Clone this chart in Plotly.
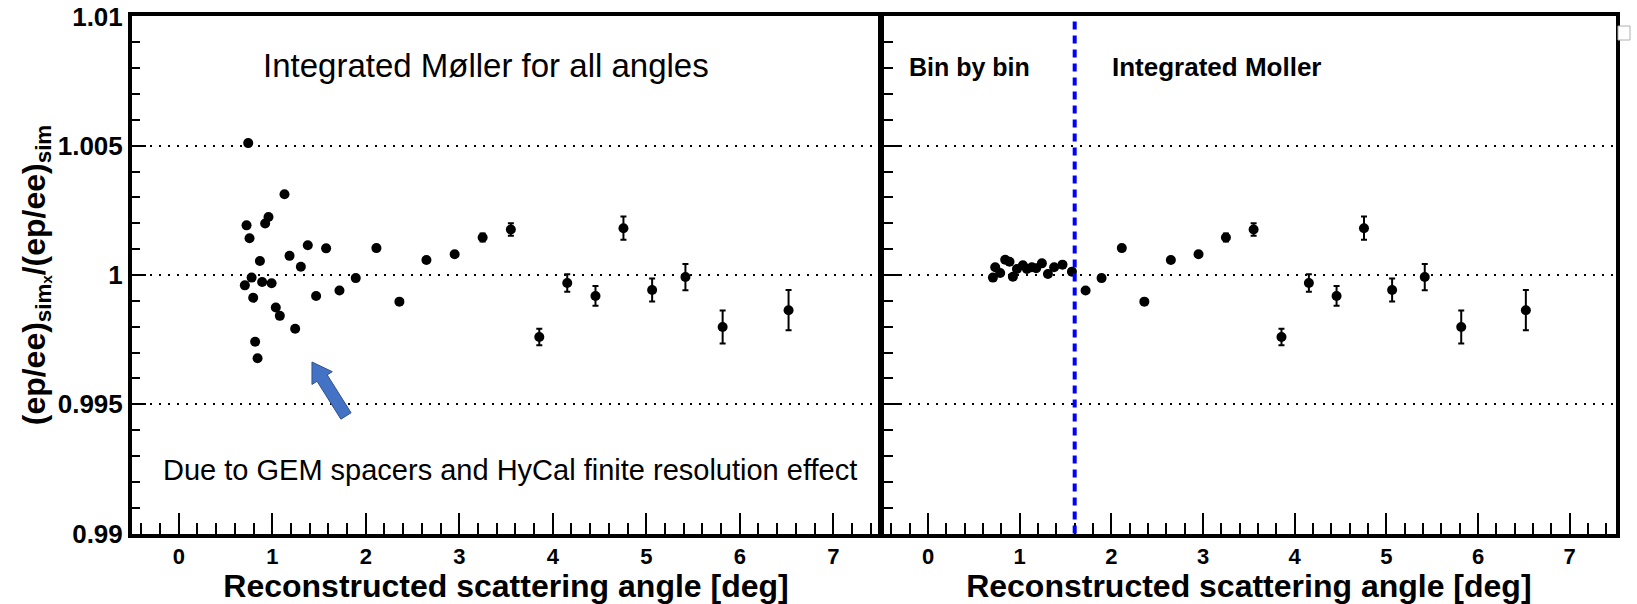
import plotly.graph_objects as go

# ---------------- data ----------------
# Integrated Moller normalisation (left panel; also right panel above the cut)
angle_int = [0.707, 0.725, 0.743, 0.757, 0.779, 0.796, 0.817, 0.843, 0.868, 0.892,
             0.924, 0.960, 0.993, 1.038, 1.081, 1.131, 1.185, 1.245, 1.306, 1.380,
             1.469, 1.576, 1.719, 1.893, 2.114, 2.360, 2.649, 2.951, 3.250, 3.552,
             3.856, 4.155, 4.457, 4.756, 5.063, 5.419, 5.817, 6.522]
ratio_int = [0.99960, 1.00192, 1.00510, 1.00142, 0.99990, 0.99912, 0.99742, 0.99678, 1.00054, 0.99973,
             1.00199, 1.00224, 0.99968, 0.99874, 0.99842, 1.00312, 1.00074, 0.99792, 1.00032, 1.00115,
             0.99919, 1.00103, 0.99940, 0.99988, 1.00104, 0.99897, 1.00058, 1.00080, 1.00145, 1.00176,
             0.99760, 0.99969, 0.99919, 1.00181, 0.99942, 0.99992, 0.99799, 0.99864]
err_int = [0.00003, 0.00003, 0.00003, 0.00003, 0.00003, 0.00003, 0.00003, 0.00003, 0.00003, 0.00003,
           0.00003, 0.00003, 0.00003, 0.00003, 0.00003, 0.00003, 0.00003, 0.00003, 0.00003, 0.00003,
           0.00003, 0.00003, 0.00004, 0.00004, 0.00005, 0.00006, 0.00008, 0.00010, 0.00015, 0.00024,
           0.00032, 0.00034, 0.00038, 0.00045, 0.00044, 0.00051, 0.00064, 0.00078]

# Bin-by-bin normalisation (right panel, below the cut)
angle_bin = [0.708, 0.733, 0.787, 0.842, 0.889, 0.926, 0.970, 1.035, 1.079, 1.133,
             1.180, 1.242, 1.308, 1.376, 1.467, 1.570]
ratio_bin = [0.99990, 1.00030, 1.00008, 1.00059, 1.00051, 0.99993, 1.00023, 1.00038, 1.00023, 1.00030,
             1.00026, 1.00045, 1.00004, 1.00030, 1.00040, 1.00013]
err_bin = [0.00003] * len(angle_bin)

angle_cut = 1.6

x_ticks = [0, 1, 2, 3, 4, 5, 6, 7]
x_ticktext = ["0", "1", "2", "3", "4", "5", "6", "7"]
y_ticks = [0.99, 0.995, 1.0, 1.005, 1.01]
y_ticktext = ["0.99", "0.995", "1", "1.005", "1.01"]
x_range = [-0.5, 7.5]
y_range = [0.99, 1.01]

# ---------------- figure ----------------
W, H = 1637, 604
FONT = "Liberation Sans, Arial, sans-serif"


def px(x):
    return x / W


def py(y):
    return 1 - y / H


sel = [i for i, a in enumerate(angle_int) if a > angle_cut]
right_x = [angle_int[i] for i in sel]
right_y = [ratio_int[i] for i in sel]
right_e = [err_int[i] for i in sel]

marker = dict(color="black", size=10, symbol="circle")
errstyle = dict(type="data", visible=True, color="black", thickness=2, width=3)

fig = go.Figure()
fig.add_trace(go.Scatter(x=angle_int, y=ratio_int, mode="markers", marker=marker,
                         error_y=dict(array=err_int, **errstyle), xaxis="x", yaxis="y",
                         showlegend=False))
fig.add_trace(go.Scatter(x=angle_bin, y=ratio_bin, mode="markers", marker=marker,
                         error_y=dict(array=err_bin, **errstyle), xaxis="x2", yaxis="y2",
                         showlegend=False))
fig.add_trace(go.Scatter(x=right_x, y=right_y, mode="markers", marker=marker,
                         error_y=dict(array=right_e, **errstyle), xaxis="x2", yaxis="y2",
                         showlegend=False))

ydom = [1 - 533.6 / H, 1 - 16.4 / H]
xdom1 = [132 / W, 880 / W]
xdom2 = [882.2 / W, 1615.5 / W]

tickfont_x = dict(family=FONT, size=22, color="black", weight="bold")
tickfont_y = dict(family=FONT, size=26, color="black", weight="bold")
title_font = dict(family=FONT, size=32, color="black", weight="bold")

xcommon = dict(range=x_range, tickmode="array", tickvals=x_ticks, ticktext=x_ticktext,
               ticks="inside", ticklen=21, tickwidth=2, tickcolor="black",
               minor=dict(tickmode="linear", tick0=0, dtick=0.2, ticks="inside", ticklen=11,
                          tickwidth=2, tickcolor="black", showgrid=False),
               showline=True, linewidth=4, linecolor="black", mirror=True,
               showgrid=False, zeroline=False, tickfont=tickfont_x, automargin=False,
               title=dict(text="Reconstructed scattering angle [deg]", font=title_font, standoff=3))

x1 = dict(xcommon); x1["domain"] = xdom1; x1["anchor"] = "y"
x2 = dict(xcommon); x2["domain"] = xdom2; x2["anchor"] = "y2"

ycommon = dict(range=y_range, domain=ydom, tickmode="array", tickvals=y_ticks, ticktext=y_ticktext,
               ticks="inside", tickwidth=2, tickcolor="black",
               showline=True, linewidth=4, linecolor="black", mirror=True,
               showgrid=True, gridcolor="black", gridwidth=2, griddash="2px,7px",
               zeroline=False, tickfont=tickfont_y, automargin=False)

y1 = dict(ycommon); y1.update(anchor="x", ticklen=14,
                              minor=dict(tickmode="linear", tick0=0.99, dtick=0.001, ticks="inside",
                                         ticklen=8, tickwidth=2, tickcolor="black", showgrid=False),
                              title=dict(text="(ep/ee)<sub>simₓ</sub>/(ep/ee)<sub>sim</sub>",
                                         font=title_font, standoff=4))
y2 = dict(ycommon); y2.update(anchor="x2", ticklen=20, showticklabels=False, matches="y",
                              minor=dict(tickmode="linear", tick0=0.99, dtick=0.001, ticks="inside",
                                         ticklen=11, tickwidth=2, tickcolor="black", showgrid=False))

fig.update_layout(width=W, height=H, margin=dict(l=0, r=0, t=0, b=0, autoexpand=False),
                  paper_bgcolor="white", plot_bgcolor="white",
                  xaxis=x1, yaxis=y1, xaxis2=x2, yaxis2=y2,
                  font=dict(family=FONT, color="black"))

# blue dashed cut line on the right panel
fig.add_shape(type="line", xref="x2", yref="y2 domain", x0=angle_cut, x1=angle_cut, y0=0, y1=1,
              line=dict(color="#0000ff", width=4, dash="8px,6px"))

# annotations
ann = [
    dict(text="Integrated Møller for all angles", x=px(486), y=py(65), xanchor="center",
         yanchor="middle", font=dict(family=FONT, size=33, color="black")),
    dict(text="Due to GEM spacers and HyCal finite resolution effect", x=px(161), y=py(470),
         xanchor="left", yanchor="middle", font=dict(family=FONT, size=29, color="black")),
    dict(text="Bin by bin", x=px(907), y=py(67), xanchor="left", yanchor="middle",
         font=dict(family=FONT, size=25, color="black", weight="bold")),
    dict(text="Integrated Moller", x=px(1110), y=py(67), xanchor="left", yanchor="middle",
         font=dict(family=FONT, size=26, color="black", weight="bold")),
]
for a in ann:
    fig.add_annotation(xref="paper", yref="paper", showarrow=False, **a)

# block arrow (pixel geometry -> paper coords)
tip = (312.0, 362.0)
tail = (346.0, 416.0)
dx, dy = tip[0] - tail[0], tip[1] - tail[1]
L = (dx * dx + dy * dy) ** 0.5
ux, uy = dx / L, dy / L
nx, ny = -uy, ux
head_len, head_hw, shaft_hw = 19.0, 12.0, 6.0
hx, hy = tip[0] - head_len * ux, tip[1] - head_len * uy
pts = [tip,
       (hx + head_hw * nx, hy + head_hw * ny),
       (hx + shaft_hw * nx, hy + shaft_hw * ny),
       (tail[0] + shaft_hw * nx, tail[1] + shaft_hw * ny),
       (tail[0] - shaft_hw * nx, tail[1] - shaft_hw * ny),
       (hx - shaft_hw * nx, hy - shaft_hw * ny),
       (hx - head_hw * nx, hy - head_hw * ny)]
path = "M " + " L ".join(f"{px(x):.5f},{py(y):.5f}" for x, y in pts) + " Z"
fig.add_shape(type="path", xref="paper", yref="paper", path=path,
              fillcolor="#4472C4", line=dict(color="#2F528F", width=1))

# small icon at the top right corner
fig.add_shape(type="rect", xref="paper", yref="paper", x0=px(1618), x1=px(1630), y0=py(40), y1=py(26),
              line=dict(color="#b0b0b0", width=1), fillcolor="white")

fig.write_html("out.html")
